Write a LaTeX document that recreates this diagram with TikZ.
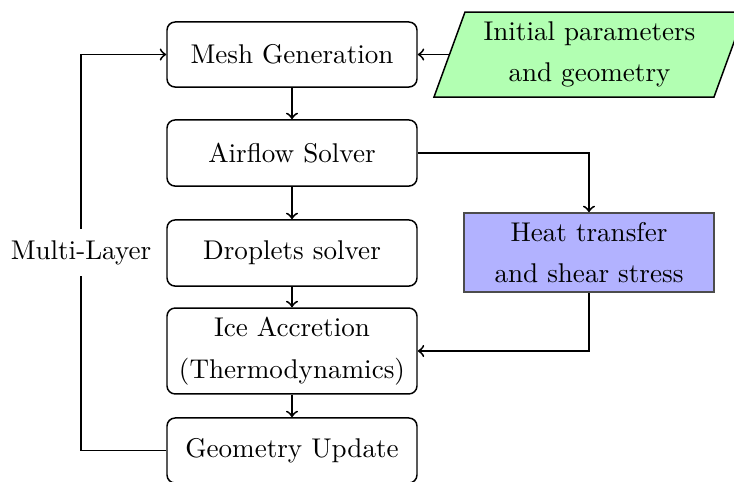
\documentclass[tikz,border=0pt]{standalone}
\usetikzlibrary{calc}
\begin{document}
\begin{tikzpicture}[x=0.369pt,y=-0.369pt,
  font=\fontsize{10}{15.3}\selectfont,
  procbox/.style={draw, line width=0.55pt, rounded corners=3pt, minimum width=92.25pt, align=center, inner sep=0pt},
  heatbox/.style={draw=black!70, line width=0.55pt, fill=blue!30, minimum width=92.25pt, minimum height=29.2pt, align=center, inner sep=0pt},
  conn/.style={->, line width=0.7pt}]
\useasboundingbox (0,0) rectangle (734,481);
% process boxes
\node[procbox, minimum height=24pt] (mesh) at (292,54.5) {Mesh Generation};
\node[procbox, minimum height=24.4pt] (air) at (292,153) {Airflow Solver};
\node[procbox, minimum height=24.4pt] (drop) at (292,253) {Droplets solver};
\node[procbox, minimum height=31.7pt] (ice) at (292,351) {Ice Accretion\\(Thermodynamics)};
\node[procbox, minimum height=24pt] (geo) at (292,450.5) {Geometry Update};
% input parallelogram
\path[draw, line width=0.55pt, fill=green!30] (434,97) -- (465,12) -- (745,12) -- (714,97) -- cycle;
\node[align=center, inner sep=0pt] (init) at (589.5,54.5) {Initial parameters\\and geometry};
\coordinate (initL) at (449.7,54.5);
% heat box
\node[heatbox] (heat) at (589,252.5) {Heat transfer\\and shear stress};
% loop coordinate
\coordinate (loopx) at (81,0);
% connectors
\draw[conn] (mesh) -- (air);
\draw[conn] (air) -- (drop);
\draw[conn] (drop) -- (ice);
\draw[conn] (ice) -- (geo);
\draw[conn] (initL) -- (mesh.east);
\draw[conn] (air.east) -| (heat.north);
\draw[conn] (heat.south) |- (ice.east);
\draw[conn] (geo.west) -- (geo.west -| loopx) -- node[midway, fill=white, inner xsep=1.5pt, inner ysep=4pt] (ml) {Multi-Layer} (mesh.west -| loopx) -- (mesh.west);
\end{tikzpicture}
\end{document}
